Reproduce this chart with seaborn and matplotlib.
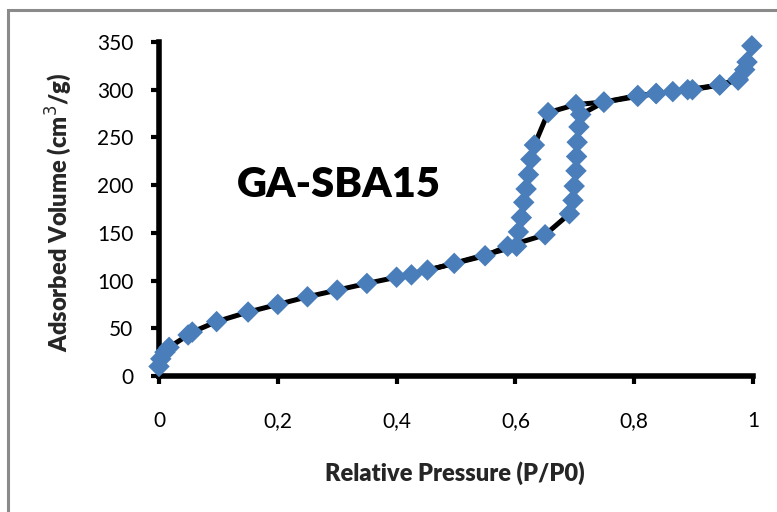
import matplotlib
matplotlib.use("Agg")
import matplotlib.pyplot as plt
import seaborn as sns
import pandas as pd
from matplotlib.patches import Rectangle

# ---- data ----
ads_p = [0, 0.003, 0.01, 0.017, 0.049, 0.056, 0.097, 0.15, 0.2, 0.25, 0.30, 0.35,
         0.40, 0.452, 0.497, 0.549, 0.587, 0.65, 0.691, 0.697, 0.699, 0.702, 0.703,
         0.704, 0.707, 0.71, 0.749, 0.806, 0.837, 0.865, 0.89, 0.944, 0.975, 0.986, 0.998]
ads_v = [10, 18, 25, 30, 43, 46, 57, 67, 75, 83, 90, 97,
         103.5, 111, 118, 126, 136, 148, 170, 184, 199, 215, 230,
         245, 261, 274, 287, 294, 296, 298, 300, 305, 310, 321, 346]
des_p = [0.99, 0.975, 0.944, 0.898, 0.837, 0.806, 0.749, 0.702, 0.655, 0.632, 0.626,
         0.622, 0.618, 0.614, 0.61, 0.605, 0.602, 0.425]
des_v = [329, 311, 305, 300, 296, 293, 287, 284.5, 276, 242, 227,
         211, 196, 182, 166, 151, 136, 106]

x_ticks = [0, 0.2, 0.4, 0.6, 0.8, 1.0]
x_tick_labels = ["0", "0,2", "0,4", "0,6", "0,8", "1"]
y_ticks = [0, 50, 100, 150, 200, 250, 300, 350]

ads = pd.DataFrame({"p": ads_p, "v": ads_v})
des = pd.DataFrame({"p": des_p, "v": des_v})

sns.set_style("white")
plt.rcParams["font.family"] = ["Lato", "DejaVu Sans"]

fig = plt.figure(figsize=(7.77, 5.12), dpi=100)
ax = fig.add_axes([159 / 777, 1 - 376 / 512, 594 / 777, 334 / 512])

blue = "#4A7EBB"
for df in (ads, des):
    sns.lineplot(data=df, x="p", y="v", sort=False, color="black", lw=3.6,
                 ax=ax, zorder=2)
for df in (ads, des):
    sns.scatterplot(data=df, x="p", y="v", marker="D", s=120, color=blue,
                    edgecolor="none", linewidth=0, ax=ax, zorder=3, clip_on=False)

ax.set_xlim(0, 1)
ax.set_ylim(0, 350)
ax.set_xticks(x_ticks)
ax.set_xticklabels(x_tick_labels)
ax.set_yticks(y_ticks)

for s in ["top", "right"]:
    ax.spines[s].set_visible(False)
for s in ["left", "bottom"]:
    ax.spines[s].set_linewidth(4.0)
    ax.spines[s].set_color("black")
    ax.spines[s].set_zorder(1)

ax.tick_params(axis="both", which="major", direction="out", length=5.5, width=3,
               color="black", labelsize=15, labelcolor="black")
ax.tick_params(axis="x", pad=20)
ax.tick_params(axis="y", pad=13)
ax.tick_params(left=True, bottom=True)

ax.set_xlabel("Relative Pressure (P/P0)", fontsize=17, fontweight="heavy",
              labelpad=0)
ax.set_ylabel("Adsorbed Volume (cm$^3$/g)", fontsize=17, fontweight="heavy")
ax.xaxis.set_label_coords((455 - 159) / 594, -(461 - 376) / 334)
ax.yaxis.set_label_coords(-(159 - 74) / 594, (376 - 212) / 334)

ax.text(0.303, 187.6, "GA-SBA15", fontsize=30, fontweight="heavy",
        ha="center", va="baseline", color="black")

ax.set_facecolor("none")
fig.patches.append(Rectangle((8 / 777, -0.2), 1.2, 1.2 - 10 / 512,
                             transform=fig.transFigure, fill=False,
                             edgecolor="#8A8A8A", linewidth=2.2))

fig.savefig("out.png", dpi=100)
